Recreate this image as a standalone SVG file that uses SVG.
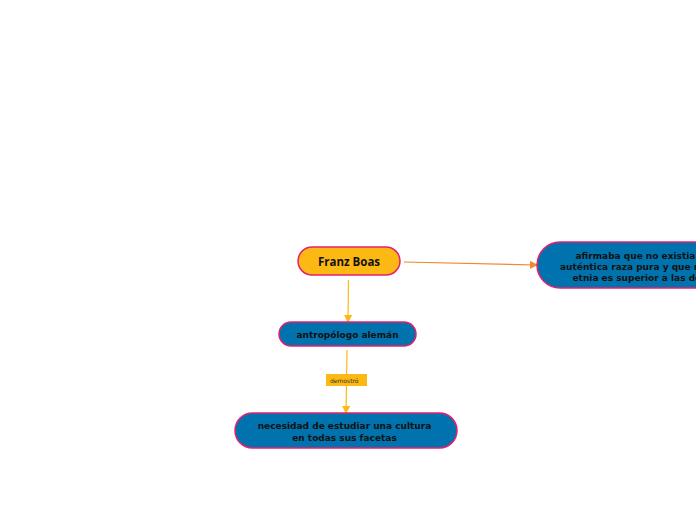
<svg xmlns="http://www.w3.org/2000/svg" width="696" height="520" viewBox="0 0 696 520">
<style>
.blue{fill:#0073AE;stroke:#E3206F;stroke-width:1.5}
.yel{fill:#FDB913;stroke:#E3206F;stroke-width:1.5}
.t{font-family:"DejaVu Sans",Verdana,sans-serif;font-weight:bold;font-size:9px;fill:#111}
.c{stroke-width:1.2;fill:none}
</style>
<defs>
<marker id="ay" markerWidth="8" markerHeight="8" refX="7" refY="4" orient="auto" markerUnits="userSpaceOnUse"><path d="M0,0 L8,4 L0,8 Z" fill="#FDB913"/></marker>
<marker id="ao" markerWidth="8" markerHeight="8" refX="7" refY="4" orient="auto" markerUnits="userSpaceOnUse"><path d="M0,0 L8,4 L0,8 Z" fill="#F0892A"/></marker>
</defs>
<rect width="696" height="520" fill="#fff"/>
<g id="connectors">
<line class="c" x1="404" y1="262" x2="537" y2="265" stroke="#F0892A" marker-end="url(#ao)"/>
<line class="c" x1="348.5" y1="280" x2="348" y2="322" stroke="#FDB913" marker-end="url(#ay)"/>
<line class="c" x1="347" y1="350" x2="346" y2="413" stroke="#FDB913" marker-end="url(#ay)"/>
<g id="label-demostro">
<rect x="326" y="374" width="41" height="12" fill="#FDB913"/>
<text x="330" y="382.5" font-family="DejaVu Sans,sans-serif" font-size="6px" fill="#333">demostró</text>
</g>
</g>
<g id="franz-boas">
<rect class="yel" x="298" y="247" width="102" height="28" rx="14"/>
<text x="349" y="265.5" text-anchor="middle" font-family="'Open Sans',sans-serif" font-weight="bold" font-size="11.5px" fill="#111">Franz Boas</text>
</g>
<g id="afirmaba">
<rect class="blue" x="537" y="242" width="200" height="46" rx="23"/>
<text class="t" x="575.5" y="259">afirmaba que no existia una</text>
<text class="t" x="560" y="270">auténtica raza pura y que ninguna</text>
<text class="t" x="572.5" y="281">etnia es superior a las demás</text>
</g>
<g id="antropologo">
<rect class="blue" x="279" y="322" width="137" height="24" rx="12"/>
<text class="t" x="347.5" y="337.5" text-anchor="middle">antropólogo alemán</text>
</g>
<g id="necesidad">
<rect class="blue" x="235" y="413" width="222" height="35" rx="17.5"/>
<text class="t" x="344.5" y="429" text-anchor="middle">necesidad de estudiar una cultura</text>
<text class="t" x="344.5" y="440.5" text-anchor="middle">en todas sus facetas</text>
</g>
</svg>
